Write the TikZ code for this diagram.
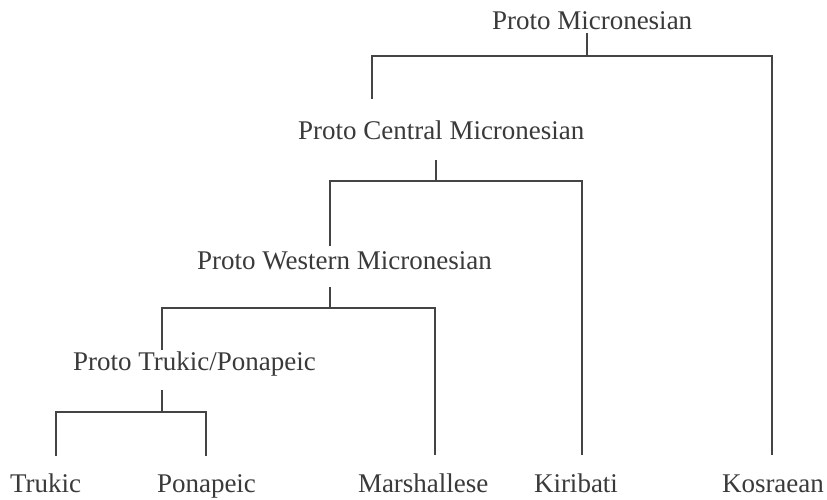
\documentclass[tikz,border=0pt]{standalone}
\usepackage{fontspec}
\setmainfont{Liberation Serif}
\definecolor{txt}{HTML}{3A3A3A}
\definecolor{ln}{HTML}{444444}
\begin{document}
\begin{tikzpicture}[x=1pt,y=-1pt,
  lbl/.style={anchor=base west,inner sep=0pt,outer sep=0pt,text=txt,font=\fontsize{27}{32}\selectfont},
  branch/.style={draw=ln,line width=2.8pt,line cap=butt,line join=miter}]
\useasboundingbox[fill=white] (0,0) rectangle (827,499);
% labels
\node[lbl] (pm)  at (492,29)  {Proto Micronesian};
\node[lbl] (pcm) at (298,139) {Proto Central Micronesian};
\node[lbl] (pwm) at (197,269) {Proto Western Micronesian};
\node[lbl] (ptp) at (73,370)  {Proto Trukic/Ponapeic};
\node[lbl] (tru) at (10,492)  {Trukic};
\node[lbl] (pon) at (157,492) {Ponapeic};
\node[lbl] (mar) at (358,492) {Marshallese};
\node[lbl] (kir) at (534,492) {Kiribati};
\node[lbl] (kos) at (722,492) {Kosraean};
% junction coordinates
\coordinate (pmT) at (587,33);  \coordinate (pmJ) at (587,56);
\coordinate (pmL) at (372,56);  \coordinate (pmR) at (772,56);
\coordinate (pmLe) at (372,99); \coordinate (kosT) at (772,455);
\coordinate (pcmT) at (436,160); \coordinate (pcmJ) at (436,181);
\coordinate (pcmL) at (330,181); \coordinate (pcmR) at (582,181);
\coordinate (pcmLe) at (330,246); \coordinate (kirT) at (582,455);
\coordinate (pwmT) at (330,287); \coordinate (pwmJ) at (330,308);
\coordinate (pwmL) at (162,308); \coordinate (pwmR) at (435,308);
\coordinate (pwmLe) at (162,350); \coordinate (marT) at (435,455);
\coordinate (ptpT) at (162,390); \coordinate (ptpJ) at (162,412);
\coordinate (ptpL) at (56,412);  \coordinate (ptpR) at (206,412);
\coordinate (truT) at (56,456);  \coordinate (ponT) at (206,456);
% branches
\draw[branch] (pmT) -- (pmJ);
\draw[branch] (pmLe) -- (pmL) -- (pmR) -- (kosT);
\draw[branch] (pcmT) -- (pcmJ);
\draw[branch] (pcmLe) -- (pcmL) -- (pcmR) -- (kirT);
\draw[branch] (pwmT) -- (pwmJ);
\draw[branch] (pwmLe) -- (pwmL) -- (pwmR) -- (marT);
\draw[branch] (ptpT) -- (ptpJ);
\draw[branch] (truT) -- (ptpL) -- (ptpR) -- (ponT);
\end{tikzpicture}
\end{document}
